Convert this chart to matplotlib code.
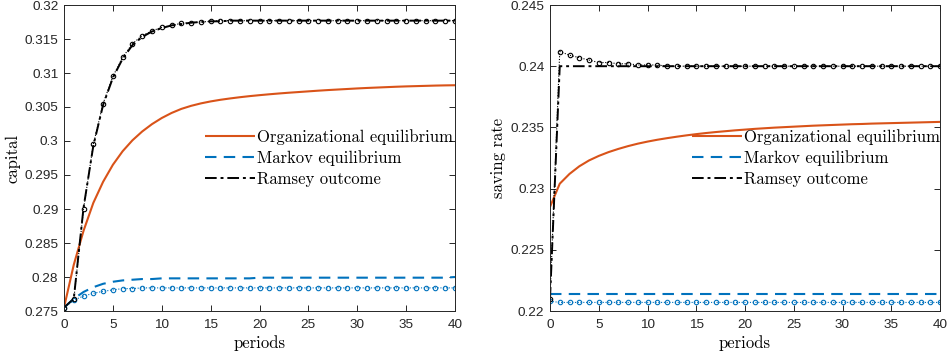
import matplotlib
matplotlib.use("Agg")
import matplotlib.pyplot as plt
from matplotlib.ticker import FormatStrFormatter, MultipleLocator

periods = list(range(41))

# ---- left panel: capital ----
cap_org = [0.27550, 0.28180, 0.28680, 0.29090, 0.29400, 0.29650, 0.29850, 0.30010, 0.30140, 0.30248,
           0.30338, 0.30412, 0.30472, 0.30517, 0.30553, 0.30582, 0.30606, 0.30626, 0.30644, 0.30660,
           0.30674, 0.30687, 0.30699, 0.30710, 0.30720, 0.30730, 0.30740, 0.30749, 0.30757, 0.30765,
           0.30773, 0.30780, 0.30786, 0.30792, 0.30798, 0.30803, 0.30807, 0.30811, 0.30815, 0.30818,
           0.30820]
cap_markov = [0.2755, 0.2768, 0.2778, 0.2785, 0.2790, 0.2793, 0.2795, 0.2796, 0.2797, 0.2797,
              0.2798, 0.2798, 0.2798, 0.2798, 0.2798, 0.2798, 0.2798, 0.2798, 0.2798, 0.2798,
              0.2799, 0.2799, 0.2799, 0.2799, 0.2799, 0.2799, 0.2799, 0.2799, 0.2799, 0.2799,
              0.2799, 0.2799, 0.2799, 0.2799, 0.2799, 0.2799, 0.2799, 0.2799, 0.2799, 0.2799,
              0.2800]
cap_markov_pts = [0.2755, 0.2766, 0.2772, 0.2776, 0.2779, 0.2781, 0.2783, 0.2783, 0.2784, 0.2784,
                  0.2784, 0.2784, 0.2784, 0.2784, 0.2784, 0.2784, 0.2784, 0.2784, 0.2784, 0.2784,
                  0.2784, 0.2784, 0.2784, 0.2784, 0.2784, 0.2784, 0.2784, 0.2784, 0.2784, 0.2784,
                  0.2784, 0.2784, 0.2784, 0.2784, 0.2784, 0.2784, 0.2784, 0.2784, 0.2784, 0.2784,
                  0.2784]
cap_ramsey = [0.2755, 0.2768, 0.2902, 0.2993, 0.3053, 0.3093, 0.3121, 0.3141, 0.3153, 0.3161,
              0.3166, 0.3170, 0.3172, 0.3174, 0.3175, 0.3176, 0.3176, 0.3177, 0.3177, 0.3177,
              0.3177, 0.3177, 0.3177, 0.3177, 0.3177, 0.3177, 0.3177, 0.3177, 0.3177, 0.3177,
              0.3177, 0.3177, 0.3177, 0.3177, 0.3177, 0.3177, 0.3177, 0.3177, 0.3177, 0.3177,
              0.3177]
cap_ramsey_pts = [0.2755, 0.2767, 0.2900, 0.2995, 0.3055, 0.3095, 0.3123, 0.3143, 0.3155, 0.3162,
                  0.3167, 0.3170, 0.3173, 0.3174, 0.3175, 0.3176, 0.3177, 0.3177, 0.3177, 0.3177,
                  0.3177, 0.3177, 0.3177, 0.3177, 0.3177, 0.3177, 0.3177, 0.3177, 0.3177, 0.3177,
                  0.3177, 0.3177, 0.3177, 0.3177, 0.3177, 0.3177, 0.3177, 0.3177, 0.3177, 0.3177,
                  0.3177]

# ---- right panel: saving rate ----
sav_org = [0.22850, 0.23040, 0.23120, 0.23182, 0.23230, 0.23267, 0.23298, 0.23324, 0.23347, 0.23367,
           0.23384, 0.23399, 0.23412, 0.23424, 0.23435, 0.23445, 0.23454, 0.23462, 0.23469, 0.23476,
           0.23482, 0.23488, 0.23493, 0.23498, 0.23502, 0.23506, 0.23510, 0.23514, 0.23517, 0.23520,
           0.23523, 0.23526, 0.23528, 0.23531, 0.23533, 0.23535, 0.23537, 0.23539, 0.23541, 0.23543,
           0.23545]
sav_markov = [0.2214, 0.2214, 0.2214, 0.2214, 0.2214, 0.2214, 0.2214, 0.2214, 0.2214, 0.2214,
              0.2214, 0.2214, 0.2214, 0.2214, 0.2214, 0.2214, 0.2214, 0.2214, 0.2214, 0.2214,
              0.2214, 0.2214, 0.2214, 0.2214, 0.2214, 0.2214, 0.2214, 0.2214, 0.2214, 0.2214,
              0.2214, 0.2214, 0.2214, 0.2214, 0.2214, 0.2214, 0.2214, 0.2214, 0.2214, 0.2214,
              0.2214]
sav_markov_pts = [0.2208, 0.2207, 0.2207, 0.2207, 0.2207, 0.2207, 0.2207, 0.2207, 0.2207, 0.2207,
                  0.2207, 0.2207, 0.2207, 0.2207, 0.2207, 0.2207, 0.2207, 0.2207, 0.2207, 0.2207,
                  0.2207, 0.2207, 0.2207, 0.2207, 0.2207, 0.2207, 0.2207, 0.2207, 0.2207, 0.2207,
                  0.2207, 0.2207, 0.2207, 0.2207, 0.2207, 0.2207, 0.2207, 0.2207, 0.2207, 0.2207,
                  0.2207]
sav_ramsey = [0.2210, 0.2400, 0.2400, 0.2400, 0.2400, 0.2400, 0.2400, 0.2400, 0.2400, 0.2400,
              0.2400, 0.2400, 0.2400, 0.2400, 0.2400, 0.2400, 0.2400, 0.2400, 0.2400, 0.2400,
              0.2400, 0.2400, 0.2400, 0.2400, 0.2400, 0.2400, 0.2400, 0.2400, 0.2400, 0.2400,
              0.2400, 0.2400, 0.2400, 0.2400, 0.2400, 0.2400, 0.2400, 0.2400, 0.2400, 0.2400,
              0.2400]
sav_ramsey_pts = [0.2210, 0.2412, 0.2409, 0.2407, 0.2405, 0.2403, 0.2403, 0.2402, 0.2402, 0.2401,
                  0.2401, 0.2401, 0.2400, 0.2400, 0.2400, 0.2400, 0.2400, 0.2400, 0.2400, 0.2400,
                  0.2400, 0.2400, 0.2400, 0.2400, 0.2400, 0.2400, 0.2400, 0.2400, 0.2400, 0.2400,
                  0.2400, 0.2400, 0.2400, 0.2400, 0.2400, 0.2400, 0.2400, 0.2400, 0.2400, 0.2400,
                  0.2400]

labels = ["Organizational equilibrium", "Markov equilibrium", "Ramsey outcome"]

ORANGE = "#D95319"
BLUE = "#0072BD"
AXC = "#262626"

plt.rcParams["axes.linewidth"] = 0.7
plt.rcParams["axes.unicode_minus"] = False

fig = plt.figure(figsize=(9.48, 3.58), dpi=100)
axL = fig.add_axes([64 / 948, 1 - 311 / 358, (455 - 64) / 948, (311 - 5) / 358])
axR = fig.add_axes([550 / 948, 1 - 311 / 358, (940 - 550) / 948, (311 - 5) / 358])

serif = "cmr10"


def draw(ax, org, mk, mk_pts, rm, rm_pts, ylim, ylabel, legx):
    l1, = ax.plot(periods, org, color=ORANGE, lw=1.5, solid_capstyle="butt")
    l2, = ax.plot(periods, mk, color=BLUE, lw=1.5, linestyle=(0, (5.5, 3.5)))
    l3, = ax.plot(periods, rm, color="black", lw=1.4, linestyle=(0, (6, 2, 1.5, 2)))
    ax.plot(periods, mk_pts, color=BLUE, lw=0.8, linestyle=(0, (1, 1.5)),
            marker="o", markersize=3.2, markerfacecolor="none", markeredgewidth=0.8)
    ax.plot(periods, rm_pts, color="black", lw=0.8, linestyle=(0, (1, 1.5)),
            marker="o", markersize=3.2, markerfacecolor="none", markeredgewidth=0.8)
    ax.set_xlim(0, 40)
    ax.set_ylim(*ylim)
    ax.xaxis.set_major_locator(MultipleLocator(5))
    ax.yaxis.set_major_locator(MultipleLocator(0.005))
    ax.yaxis.set_major_formatter(FormatStrFormatter("%g"))
    ax.tick_params(direction="in", length=4, width=0.7, top=True, right=True,
                   colors=AXC, labelsize=9.7, pad=4)
    ax.tick_params(axis="x", pad=6)
    for lab in ax.get_xticklabels() + ax.get_yticklabels():
        lab.set_family("Liberation Sans")
    for s in ax.spines.values():
        s.set_color(AXC)
    ax.set_xlabel("periods", family=serif, fontsize=12, labelpad=3)
    ax.set_ylabel(ylabel, family=serif, fontsize=12, labelpad=3)
    ax.legend([l1, l2, l3], labels, loc="upper left", bbox_to_anchor=(legx, 0.595),
              frameon=False, prop={"family": serif, "size": 12}, handlelength=3.0,
              handletextpad=0.15, labelspacing=0.33, borderpad=0, borderaxespad=0)


draw(axL, cap_org, cap_markov, cap_markov_pts, cap_ramsey, cap_ramsey_pts,
     (0.275, 0.32), "capital", 0.36)
draw(axR, sav_org, sav_markov, sav_markov_pts, sav_ramsey, sav_ramsey_pts,
     (0.22, 0.245), "saving rate", 0.364)

fig.savefig("out.png", dpi=100)
